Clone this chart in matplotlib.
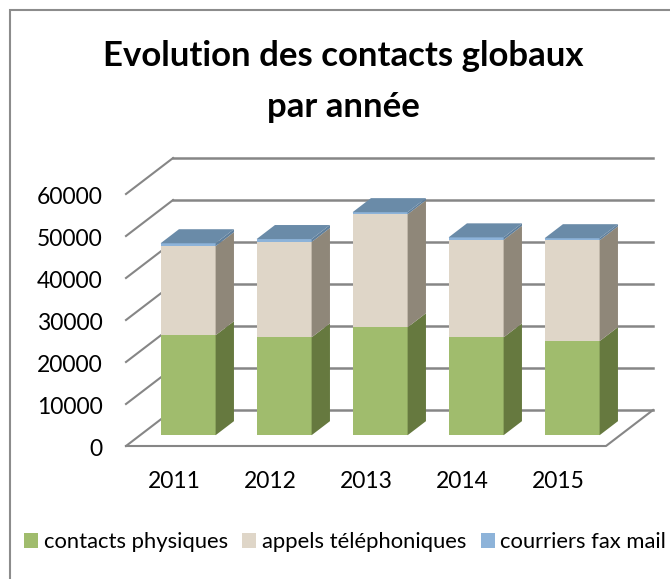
import matplotlib
matplotlib.use('Agg')
import matplotlib.pyplot as plt
from matplotlib.patches import Patch, Rectangle
from matplotlib.transforms import ScaledTranslation

plt.rcParams['font.family'] = ['Lato', 'DejaVu Sans']

years = ['2011', '2012', '2013', '2014', '2015']
physiques = [23800, 23300, 25700, 23300, 22400]
appels = [21200, 22700, 26900, 23200, 24000]
courriers = [700, 700, 500, 600, 500]
yticks = [0, 10000, 20000, 30000, 40000, 50000, 60000]

series = [
    ('contacts physiques', physiques, '#A0BC6D', '#66793F', '#A0BC6D'),
    ('appels téléphoniques', appels, '#DFD6C8', '#8F8779', '#DFD6C8'),
    ('courriers fax mail', courriers, '#8DB3D9', '#5F7F9C', '#6A8BA8'),
]

# fake 3d: depth vector of the floor, in data units
DX = 0.49
DY = 8570
D1 = 0.30
D2 = 0.69
WIDTH = 0.573
GRID = '#868686'

W, H = 670, 579
fig = plt.figure(figsize=(W / 100, H / 100), dpi=100)
ax = fig.add_axes([126 / W, 1 - 446 / H, 480 / W, 252 / H])
ax.set_xlim(-0.5, 4.5)
ax.set_ylim(0, 60000)
for s in ax.spines.values():
    s.set_visible(False)
ax.patch.set_visible(False)

# walls
for v in yticks:
    ax.plot([-0.5, -0.5 + DX], [v, v + DY], color=GRID, lw=1.5, clip_on=False, zorder=1)
    ax.plot([-0.5 + DX, 4.5 + DX], [v + DY, v + DY], color=GRID, lw=1.8, clip_on=False, zorder=1)
ax.plot([-0.5, 4.5, 4.5 + DX], [0, 0, DY], color=GRID, lw=1.5, clip_on=False, zorder=1)

# bars, bottom to top
for i in range(len(years)):
    bottom = 0
    for name, vals, front, side, top in series:
        v = vals[i]
        x0 = i - WIDTH / 2 + D1 * DX
        x1 = i + WIDTH / 2 + D1 * DX
        y0 = bottom + D1 * DY
        y1 = y0 + v
        ddx = (D2 - D1) * DX
        ddy = (D2 - D1) * DY
        ax.bar(x0, v, WIDTH, bottom=y0, align='edge', color=front, lw=0, clip_on=False, zorder=3)
        ax.fill([x1, x1 + ddx, x1 + ddx, x1], [y0, y0 + ddy, y1 + ddy, y1], color=side, lw=0, clip_on=False, zorder=3)
        if name == 'courriers fax mail':
            ax.fill([x0, x1, x1 + ddx, x0 + ddx], [y1, y1, y1 + ddy, y1 + ddy], color=top, lw=0, clip_on=False, zorder=3)
        bottom += v

ax.set_xticks(range(len(years)))
ax.set_xticklabels(years, fontsize=16.5)
ax.set_yticks(yticks)
ax.set_yticklabels([str(v) for v in yticks], fontsize=16.5)
ax.tick_params(axis='x', length=0, pad=18)
ax.tick_params(axis='y', length=0, pad=17)
for lab in ax.get_yticklabels():
    lab.set_transform(lab.get_transform() + ScaledTranslation(0, -2 / 100, fig.dpi_scale_trans))

fig.text(343 / W, 1 - 56 / H, 'Evolution des contacts globaux', fontsize=25, fontweight='bold', ha='center', va='center')
fig.text(343 / W, 1 - 107 / H, 'par année', fontsize=25, fontweight='bold', ha='center', va='center')

handles = [Patch(color=s[2], lw=0) for s in series]
fig.legend(handles, [s[0] for s in series], ncol=3, loc='center left',
           bbox_to_anchor=(24 / W, 1 - 542 / H), frameon=False, fontsize=15.8,
           handlelength=0.65, handleheight=0.65, handletextpad=0.25, columnspacing=0.65,
           borderaxespad=0, borderpad=0)

# border runs off the right and bottom of the picture
fig.add_artist(Rectangle((9.5 / W, 1 - 620 / H), 700 / W, 610 / H, transform=fig.transFigure,
                         fill=False, edgecolor='#8C8C8C', lw=1.5))

plt.savefig('out.png', dpi=100)
